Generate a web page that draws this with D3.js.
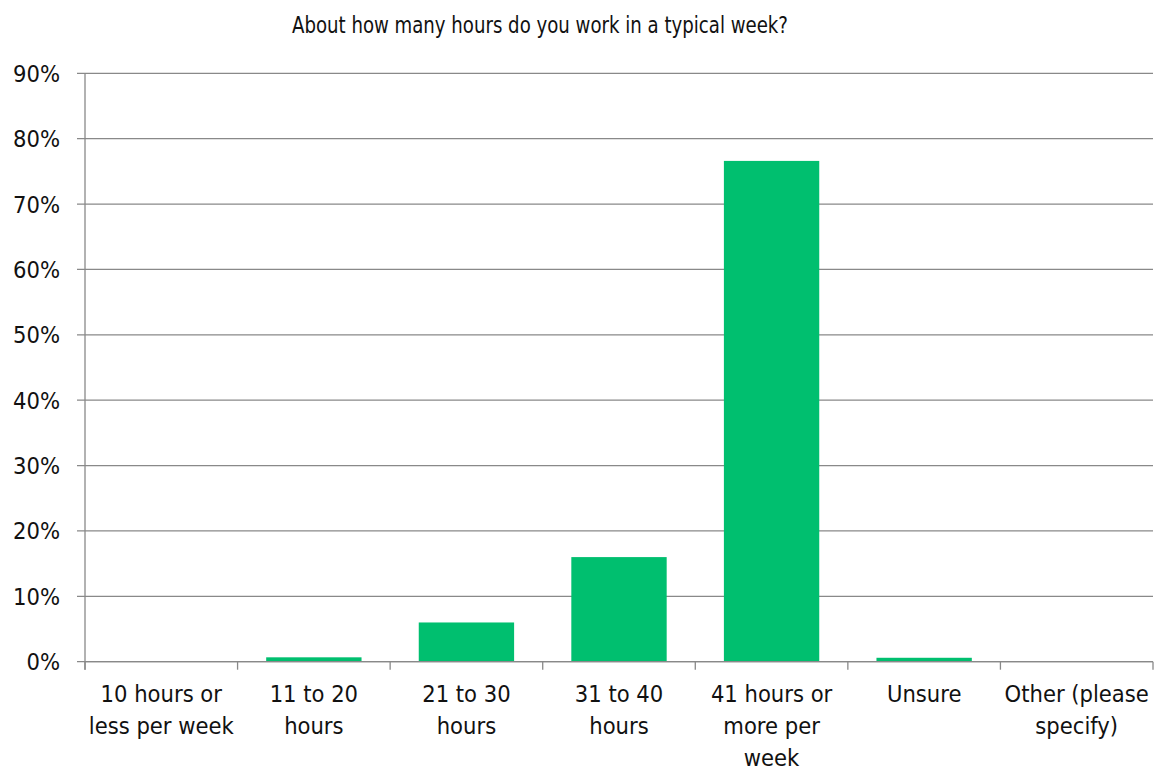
<!DOCTYPE html>
<html><head><meta charset="utf-8">
<script src="https://cdn.jsdelivr.net/npm/d3@7"></script>
<style>body{margin:0;background:#fff}svg{display:block}text{font-family:"DejaVu Sans Condensed","DejaVu Sans",sans-serif;font-stretch:condensed;fill:#111}</style>
</head><body>
<script>
const categories = ["10 hours or|less per week","11 to 20|hours","21 to 30|hours","31 to 40|hours","41 hours or|more per|week","Unsure","Other (please|specify)"];
const values = [0, 0.67, 6.0, 16.0, 76.6, 0.6, 0];
const tickValues = [0,10,20,30,40,50,60,70,80,90];
const title = "About how many hours do you work in a typical week?";

const W = 1155, H = 771;
const m = {left:85, right:2, top:73.3, bottom:109.3};
const svg = d3.select("body").append("svg").attr("width",W).attr("height",H);
const x = d3.scaleBand().domain(categories).range([m.left, W - m.right]).paddingInner(0.375).paddingOuter(0.1875);
const y = d3.scaleLinear().domain([0,90]).range([H - m.bottom, m.top]);
const gray = "#898989";
const fs = 23.5;

svg.append("g").selectAll("line").data(tickValues).join("line")
  .attr("x1", m.left - 8).attr("x2", W - m.right)
  .attr("y1", d=>y(d)).attr("y2", d=>y(d))
  .attr("stroke", gray).attr("stroke-width", 1.3);

svg.append("g").selectAll("text").data(tickValues).join("text")
  .attr("x", 60).attr("y", d=>y(d)).attr("dy","0.36em")
  .attr("text-anchor","end").attr("font-size", fs).text(d=>d+"%");

svg.append("g").selectAll("rect").data(values).join("rect")
  .attr("x",(d,i)=>x(categories[i])).attr("width", x.bandwidth())
  .attr("y", d=>y(d)).attr("height", d=>y(0)-y(d))
  .attr("fill", "#00bf6f");

svg.append("line").attr("x1",m.left).attr("x2",m.left).attr("y1",m.top).attr("y2",y(0)+8).attr("stroke",gray).attr("stroke-width",1.3);
svg.append("line").attr("x1",m.left).attr("x2",W-m.right).attr("y1",y(0)).attr("y2",y(0)).attr("stroke",gray).attr("stroke-width",1.3);
const bounds = d3.range(categories.length+1).map(i => m.left + i*(W - m.right - m.left)/categories.length);
svg.append("g").selectAll("line").data(bounds).join("line")
  .attr("x1",d=>d).attr("x2",d=>d).attr("y1",y(0)).attr("y2",y(0)+8)
  .attr("stroke",gray).attr("stroke-width",1.3);

const xl = svg.append("g").selectAll("text").data(categories).join("text")
  .attr("text-anchor","middle").attr("font-size",fs)
  .attr("transform", d=>`translate(${x(d)+x.bandwidth()/2},${y(0)+40})`);
xl.each(function(d){
  const t = d3.select(this);
  d.split("|").forEach((s,i)=>t.append("tspan").attr("x",0).attr("y",i*32).text(s));
});

svg.append("text").attr("x",540).attr("y",33).attr("text-anchor","middle").attr("font-size",23)
  .attr("textLength",496).attr("lengthAdjust","spacingAndGlyphs").text(title);
</script>
</body></html>
